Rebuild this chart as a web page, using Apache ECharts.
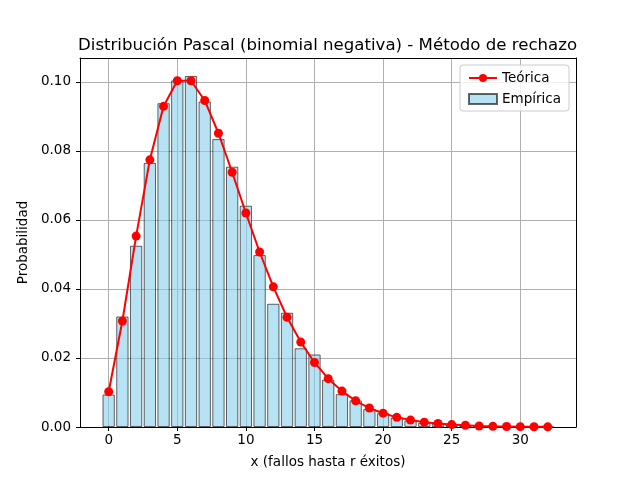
<!DOCTYPE html>
<html lang="es">
<head>
    <meta charset="utf-8">
    <title>Distribución Pascal</title>
    <script src="https://cdn.jsdelivr.net/npm/echarts@6/dist/echarts.min.js"></script>
    <style>
        body { margin: 0; background: #fff; }
        #chart { width: 640px; height: 480px; }
    </style>
</head>
<body>
<div id="chart"></div>
<script type="text/javascript">
    // valores x (fallos)
    var xs = [0,1,2,3,4,5,6,7,8,9,10,11,12,13,14,15,16,17,18,19,20,21,22,23,24,25,26,27,28,29,30,31,32];
    // frecuencias relativas de la simulacion
    var empirica = [0.0094,0.0320,0.0525,0.0765,0.0938,0.1004,0.1017,0.0943,0.0834,0.0754,
                    0.0641,0.0498,0.0357,0.0331,0.0228,0.0210,0.0137,0.0095,0.0077,0.0052,
                    0.0040,0.0027,0.0019,0.0012,0.0009,0.0006,0.0004,0.0003,0.0002,0.0001,
                    0.0001,0,0];
    // probabilidades teoricas
    var teorica = [0.0102,0.0307,0.0553,0.0774,0.0929,0.1003,0.1003,0.0946,0.0851,0.0738,
                   0.0620,0.0507,0.0406,0.0318,0.0246,0.0187,0.0140,0.0104,0.0076,0.0055,
                   0.0040,0.0028,0.0020,0.0014,0.0010,0.0007,0.0005,0.0003,0.0002,0.00015,
                   0.0001,0.00007,0.00005];

    var empData = xs.map(function (x, i) { return [x, empirica[i]]; });
    var teoData = xs.map(function (x, i) { return [x, teorica[i]]; });

    var font = 'DejaVu Sans';
    var myChart = echarts.init(document.getElementById('chart'), null, {renderer: 'canvas'});

    // ejes espejo (arriba / derecha) solo para cerrar el marco
    var frameX = { type: 'value', position: 'top', min: -2.09, max: 34.06,
                   axisLine: { show: true, onZero: false, lineStyle: { color: '#000', width: 1 } },
                   axisTick: { show: false }, axisLabel: { show: false }, splitLine: { show: false } };
    var frameY = { type: 'value', position: 'right', min: 0, max: 0.1069,
                   axisLine: { show: true, onZero: false, lineStyle: { color: '#000', width: 1 } },
                   axisTick: { show: false }, axisLabel: { show: false }, splitLine: { show: false } };

    var option = {
        animation: false,
        textStyle: { fontFamily: font },
        title: {
            text: 'Distribución Pascal (binomial negativa) - Método de rechazo',
            left: 73, top: 32,
            textStyle: { fontFamily: font, fontSize: 16.6, fontWeight: 'normal', color: '#000' }
        },
        legend: {
            orient: 'vertical',
            right: 71, top: 65,
            padding: [5, 8, 4, 8],
            itemGap: 5,
            itemWidth: 28, itemHeight: 10,
            backgroundColor: 'rgba(255,255,255,0.8)',
            borderColor: '#cccccc', borderWidth: 1, borderRadius: 3,
            textStyle: { fontFamily: font, fontSize: 13.5, color: '#000', lineHeight: 16 },
            data: [
                { name: 'Teórica' },
                { name: 'Empírica', icon: 'rect' }
            ]
        },
        grid: { left: 80, right: 64, top: 58, bottom: 53, containLabel: false, show: false },
        xAxis: [{
            type: 'value',
            min: -2.09, max: 34.06,
            splitNumber: 7,
            name: 'x (fallos hasta r éxitos)',
            nameLocation: 'middle', nameGap: 28,
            nameTextStyle: { fontFamily: font, fontSize: 13.5, color: '#000' },
            axisLine: { show: true, onZero: false, lineStyle: { color: '#000', width: 1 } },
            axisTick: { show: true, length: 4, lineStyle: { color: '#000' } },
            axisLabel: { color: '#000', fontSize: 13.5, fontFamily: font, margin: 6,
                         showMinLabel: false, showMaxLabel: false },
            splitLine: { show: true, lineStyle: { color: '#b0b0b0', width: 1 } }
        }, frameX],
        yAxis: [{
            type: 'value',
            min: 0, max: 0.1069,
            splitNumber: 5,
            name: 'Probabilidad',
            nameLocation: 'middle', nameGap: 46,
            nameTextStyle: { fontFamily: font, fontSize: 13.5, color: '#000' },
            axisLine: { show: true, onZero: false, lineStyle: { color: '#000', width: 1 } },
            axisTick: { show: true, length: 4, lineStyle: { color: '#000' } },
            axisLabel: { color: '#000', fontSize: 13.5, fontFamily: font, margin: 9,
                         showMaxLabel: false,
                         formatter: function (v) { return v.toFixed(2); } },
            splitLine: { show: true, lineStyle: { color: '#b0b0b0', width: 1 } }
        }, frameY],
        series: [
            {
                name: 'Empírica',
                type: 'bar',
                data: empData,
                barWidth: 12.3,
                itemStyle: {
                    color: 'rgba(135,206,235,0.6)',
                    borderColor: 'rgba(0,0,0,0.6)',
                    borderWidth: 1
                },
                z: 2
            },
            {
                name: 'Teórica',
                type: 'line',
                data: teoData,
                symbol: 'circle',
                symbolSize: 9,
                showAllSymbol: true,
                lineStyle: { color: '#ff0000', width: 2 },
                itemStyle: { color: '#ff0000' },
                z: 3
            }
        ]
    };

    myChart.setOption(option);
</script>
</body>
</html>
